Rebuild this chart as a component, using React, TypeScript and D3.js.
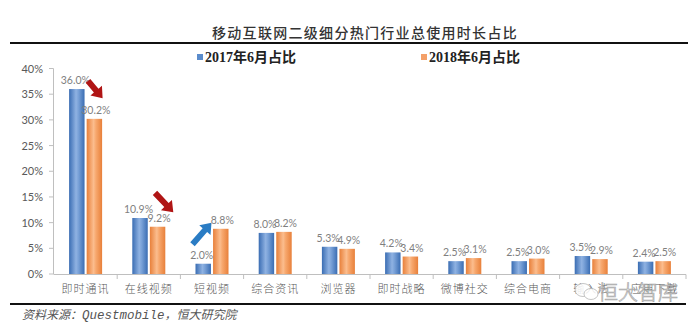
import React from "react";
import * as d3 from "d3";

const categories = ["即时通讯", "在线视频", "短视频", "综合资讯", "浏览器", "即时战略", "微博社交", "综合电商", "输入法", "应用下载"];
const series2017 = [36.0, 10.9, 2.0, 8.0, 5.3, 4.2, 2.5, 2.5, 3.5, 2.4];
const series2018 = [30.2, 9.2, 8.8, 8.2, 4.9, 3.4, 3.1, 3.0, 2.9, 2.5];
const seriesNames = ["2017年6月占比", "2018年6月占比"];
const yTicks = [0, 5, 10, 15, 20, 25, 30, 35, 40];
const title = "移动互联网二级细分热门行业总使用时长占比";
const sourceParts = ["资料来源：", "Questmobile", "，恒大研究院"];
// annotation arrows: category, [dx, value] tail, [dx, value] tip
const arrowCats = ["即时通讯", "在线视频", "短视频"];
const arrowFrom = [[2.4, 37.6], [6.2, 15.8], [-19.5, 5.8]];
const arrowTo = [[17, 34.2], [24.5, 12.0], [-0.5, 10.0]];
const arrowColors = ["#b01515", "#b01515", "#2a7cc4"];

const W = 700, H = 336;

function arrowPath(x1: number, y1: number, x2: number, y2: number) {
  const dx = x2 - x1, dy = y2 - y1;
  const len = Math.sqrt(dx * dx + dy * dy);
  const ux = dx / len, uy = dy / len;
  const nx = -uy, ny = ux;
  const hl = 10, hw = 7.5, sw = 3;
  const bx = x2 - ux * hl, by = y2 - uy * hl;
  const pts = [
    [x1 + nx * sw, y1 + ny * sw],
    [bx + nx * sw, by + ny * sw],
    [bx + nx * hw, by + ny * hw],
    [x2, y2],
    [bx - nx * hw, by - ny * hw],
    [bx - nx * sw, by - ny * sw],
    [x1 - nx * sw, y1 - ny * sw],
  ];
  return "M" + pts.map((p) => p.join(",")).join("L") + "Z";
}

export default function App() {
  const x0 = d3.scaleBand<string>().domain(categories).range([54, 686]).paddingInner(0).paddingOuter(0);
  const x1 = d3.scaleBand<string>().domain(seriesNames).range([-16.5, 16.5]).paddingInner(0.12);
  const y = d3.scaleLinear().domain([0, 40]).range([274, 68.5]);
  const step = x0.step();
  const sansNum = "Lato, 'Liberation Sans', sans-serif";
  const cjk = "'Noto Sans CJK SC', sans-serif";
  const allSeries = [series2017, series2018];
  const fills = ["url(#gBlue)", "url(#gOrange)"];
  const labelShift = [-1.5, 1.5];

  return (
    <svg width={W} height={H} viewBox={`0 0 ${W} ${H}`} style={{ position: "absolute", left: 0, top: 0, background: "#fff" }}>
      <defs>
        <linearGradient id="gBlue" x1="0" x2="1" y1="0" y2="0">
          <stop offset="0" stopColor="#3a6db3" />
          <stop offset="0.45" stopColor="#8fb2e2" />
          <stop offset="0.6" stopColor="#7aa2d8" />
          <stop offset="1" stopColor="#3a6db3" />
        </linearGradient>
        <linearGradient id="gOrange" x1="0" x2="1" y1="0" y2="0">
          <stop offset="0" stopColor="#e8803a" />
          <stop offset="0.45" stopColor="#fbbd8e" />
          <stop offset="0.6" stopColor="#f7a86e" />
          <stop offset="1" stopColor="#e8803a" />
        </linearGradient>
      </defs>

      {/* title */}
      <text x={365} y={38} textAnchor="middle" fontFamily={cjk} fontSize={14} fontWeight={500} letterSpacing={1.3} fill="#333">{title}</text>
      <line x1={10} x2={688} y1={43} y2={43} stroke="#111" strokeWidth={2} />

      {/* legend */}
      {seriesNames.map((s, i) => {
        const lx = i === 0 ? 197 : 421;
        return (
          <g key={s}>
            <rect x={lx} y={54} width={6} height={6} fill={i === 0 ? "#5b8ccc" : "#f4a068"} />
            <text x={lx + 8} y={61.5} fontFamily="'Liberation Serif', 'Noto Sans CJK SC', serif" fontWeight="bold" fontSize={14} fill="#222">{s}</text>
          </g>
        );
      })}

      {/* y axis */}
      <line x1={53.5} x2={53.5} y1={y(40)} y2={y(0)} stroke="#bfbfbf" strokeWidth={1} />
      {yTicks.map((t) => (
        <g key={t}>
          <line x1={49} x2={53.5} y1={y(t)} y2={y(t)} stroke="#bfbfbf" />
          <text x={43} y={y(t) + 4} textAnchor="end" fontFamily={sansNum} fontSize={11} fill="#595959">{t}%</text>
        </g>
      ))}

      {/* x axis */}
      <line x1={53.5} x2={686} y1={274.5} y2={274.5} stroke="#bfbfbf" />
      {categories.map((c, i) => (
        <line key={"t" + i} x1={(x0(c) as number) + step} x2={(x0(c) as number) + step} y1={274.5} y2={279} stroke="#bfbfbf" />
      ))}
      {categories.map((c) => (
        <text key={"l" + c} x={(x0(c) as number) + step / 2} y={293} textAnchor="middle" fontFamily={cjk} fontSize={11} fontWeight={300} letterSpacing={1} fill="#595959">{c}</text>
      ))}

      {/* bars */}
      {allSeries.map((vals, si) =>
        categories.map((c, i) => {
          const cx = (x0(c) as number) + step / 2;
          const bx = cx + (x1(seriesNames[si]) as number);
          return (
            <rect key={si + "-" + i} x={bx} y={y(vals[i])} width={x1.bandwidth()} height={y(0) - y(vals[i])} fill={fills[si]} />
          );
        })
      )}

      {/* data labels */}
      {allSeries.map((vals, si) =>
        categories.map((c, i) => {
          const cx = (x0(c) as number) + step / 2;
          const bx = cx + (x1(seriesNames[si]) as number) + x1.bandwidth() / 2 + labelShift[si];
          return (
            <text key={"d" + si + "-" + i} x={bx} y={y(vals[i]) - 5} textAnchor="middle" fontFamily={sansNum} fontSize={10.5} fill="#7f7f7f">{vals[i].toFixed(1)}%</text>
          );
        })
      )}

      {/* arrows */}
      {arrowCats.map((c, i) => {
        const cx = (x0(c) as number) + step / 2;
        return (
          <path key={"a" + i} d={arrowPath(cx + arrowFrom[i][0], y(arrowFrom[i][1]), cx + arrowTo[i][0], y(arrowTo[i][1]))} fill={arrowColors[i]} />
        );
      })}

      {/* watermark */}
      <g opacity={0.85}>
        <ellipse cx={583} cy={290} rx={8} ry={6.5} fill="#fff" stroke="#aaa" strokeWidth={0.8} />
        <ellipse cx={591} cy={294} rx={7} ry={5.5} fill="#fff" stroke="#aaa" strokeWidth={0.8} />
        <text x={598} y={300} fontFamily={cjk} fontSize={20} fontWeight={300} fill="#fff" stroke="#999" strokeWidth={0.7}>恒大智库</text>
      </g>

      {/* bottom line and source */}
      <line x1={10} x2={686} y1={304} y2={304} stroke="#111" strokeWidth={2} />
      <text x={22} y={319} fontSize={12} fill="#555" fontStyle="italic">
        <tspan fontFamily={cjk}>{sourceParts[0]}</tspan>
        <tspan fontFamily="'Liberation Mono', monospace" fontSize={12.5}>{sourceParts[1]}</tspan>
        <tspan fontFamily={cjk}>{sourceParts[2]}</tspan>
      </text>
    </svg>
  );
}
